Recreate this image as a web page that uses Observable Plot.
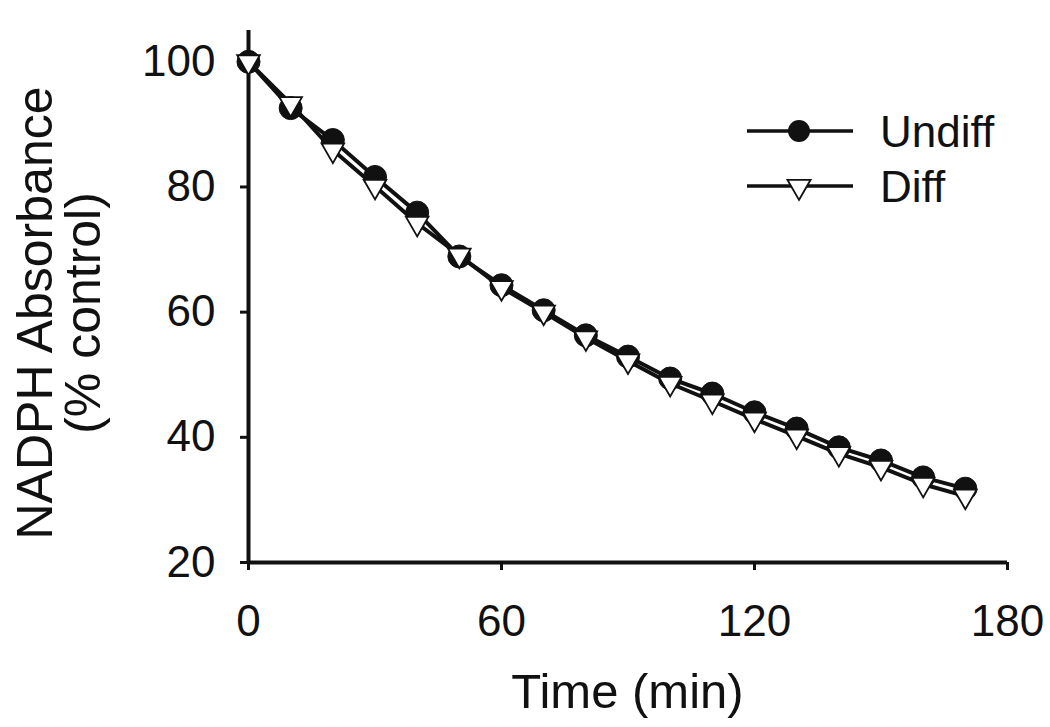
<!DOCTYPE html>
<html><head><meta charset="utf-8">
<script src="https://cdn.jsdelivr.net/npm/d3@7"></script>
<script src="https://cdn.jsdelivr.net/npm/@observablehq/plot@0.6"></script>
<style>body{margin:0;background:#fff}</style>
</head><body><div id="chart"></div>
<script>
const times = [0,10,20,30,40,50,60,70,80,90,100,110,120,130,140,150,160,170];
const undiff = [100,92.6,87.5,81.6,75.9,68.9,64.3,60.3,56.3,52.9,49.4,47.0,44.0,41.4,38.4,36.3,33.6,31.8];
const diff = [100,93.3,85.9,80.1,74.2,69.1,63.9,60.0,55.9,52.2,48.6,45.8,42.9,40.2,37.4,35.2,32.5,30.6];
const xTicks = [0,60,120,180];
const yTicks = [20,40,60,80,100];
const seriesNames = ["Undiff","Diff"];
const xLabel = "Time (min)";
const yLabelLines = ["NADPH Absorbance","(% control)"];

const FONT = "'Liberation Sans', Arial, Helvetica, sans-serif";
const triDown = {draw(ctx, size){
  const y = -Math.sqrt(size/(Math.sqrt(3)*3));
  ctx.moveTo(0,-2*y); ctx.lineTo(Math.sqrt(3)*y, y); ctx.lineTo(-Math.sqrt(3)*y, y); ctx.closePath();
}};
const rows = [];
times.forEach((t,i)=>{ rows.push({t, v: undiff[i], s: seriesNames[0]}); rows.push({t, v: diff[i], s: seriesNames[1]}); });
const U = rows.filter(d=>d.s===seriesNames[0]);
const D = rows.filter(d=>d.s===seriesNames[1]);

const ml=248, mr=43, mt=30, mb=165, W=1050, H=727;
const plot = Plot.plot({
  width: W, height: H,
  marginLeft: ml, marginRight: mr, marginTop: mt, marginBottom: mb,
  style: {fontFamily: FONT, background: "#fff", color: "#111"},
  x: {domain: [0,180]},
  y: {domain: [20,105]},
  marks: [
    Plot.axisX({ticks: xTicks, tickSize: 8, tickPadding: 34, fontSize: 44, label: null, strokeWidth: 3, tickFormat: d=>String(d)}),
    Plot.axisY({ticks: yTicks, tickSize: 8, tickPadding: 25, fontSize: 44, label: null, strokeWidth: 3, tickFormat: d=>String(d)}),
    Plot.ruleX([0], {stroke: "#111", strokeWidth: 4}),
    Plot.ruleY([20], {stroke: "#111", strokeWidth: 4}),
    Plot.line(U, {x: "t", y: "v", stroke: "#111", strokeWidth: 4}),
    Plot.line(D, {x: "t", y: "v", stroke: "#111", strokeWidth: 4}),
    Plot.dot(U, {x: "t", y: "v", r: 11.5, symbol: "circle", fill: "#111", stroke: "#111", strokeWidth: 1}),
    Plot.dot(D, {x: "t", y: "v", r: 8.4, symbol: triDown, fill: "#fff", stroke: "#111", strokeWidth: 1.8})
  ]
});
document.getElementById("chart").appendChild(plot);

const svg = d3.select(plot);
// axis titles
svg.append("text").attr("x", (ml + W - mr)/2).attr("y", 708).attr("text-anchor","middle")
  .attr("font-family", FONT).attr("font-size", 49).attr("fill","#111").text(xLabel);
const yl = svg.append("text").attr("transform","translate(52,313) rotate(-90)").attr("text-anchor","middle")
  .attr("font-family", FONT).attr("font-size", 50).attr("fill","#111");
yl.append("tspan").attr("x",0).attr("y",0).text(yLabelLines[0]);
yl.append("tspan").attr("x",0).attr("y",48).text(yLabelLines[1]);

// legend
const lg = svg.append("g").attr("font-family", FONT).attr("font-size", 44).attr("fill","#111").attr("text-anchor","start");
const legY = [131, 186];
seriesNames.forEach((name,i)=>{
  const y = legY[i];
  lg.append("line").attr("x1",747).attr("x2",853).attr("y1",y).attr("y2",y).attr("stroke","#111").attr("stroke-width",3.6);
  if (i===0) lg.append("circle").attr("cx",799).attr("cy",y).attr("r",11).attr("fill","#111");
  else lg.append("path").attr("transform",`translate(799,${y+0.5})`).attr("d", d3.symbol(triDown, Math.PI*8.6*8.6)()).attr("fill","#fff").attr("stroke","#111").attr("stroke-width",1.8);
  lg.append("text").attr("x",880).attr("y",y+16).attr("text-anchor","start").text(name);
});
</script>
</body></html>
